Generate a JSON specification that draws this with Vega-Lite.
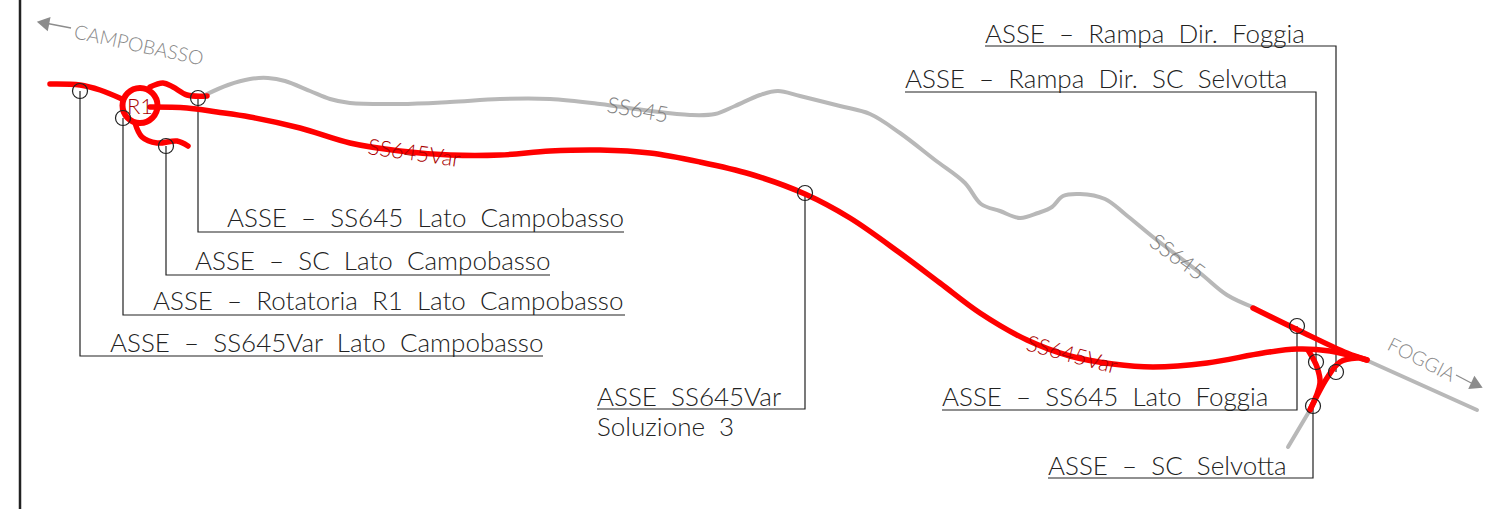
{"$schema":"https://vega.github.io/schema/vega-lite/v6.json","width":1485,"height":509,"padding":0,"autosize":"none","background":"white","view":{"stroke":null},
"encoding":{"x":{"field":"x","type":"quantitative","scale":{"domain":[0,1485],"nice":false,"zero":false},"axis":null},"y":{"field":"y","type":"quantitative","scale":{"domain":[509,0],"nice":false,"zero":false},"axis":null}},
"datasets":{"paths":[
{"p":"frame","k":"frame","s":0,"x":20,"y":0},{"p":"frame","k":"frame","s":1,"x":20,"y":509},
{"p":"g1","k":"grey","s":0,"x":205,"y":95},{"p":"g1","k":"grey","s":1,"x":228,"y":85},{"p":"g1","k":"grey","s":2,"x":250,"y":79},{"p":"g1","k":"grey","s":3,"x":268,"y":78},{"p":"g1","k":"grey","s":4,"x":285,"y":81},{"p":"g1","k":"grey","s":5,"x":310,"y":91},{"p":"g1","k":"grey","s":6,"x":330,"y":99},{"p":"g1","k":"grey","s":7,"x":350,"y":103},{"p":"g1","k":"grey","s":8,"x":400,"y":104},{"p":"g1","k":"grey","s":9,"x":450,"y":102},{"p":"g1","k":"grey","s":10,"x":500,"y":99},{"p":"g1","k":"grey","s":11,"x":550,"y":99},{"p":"g1","k":"grey","s":12,"x":600,"y":104},{"p":"g1","k":"grey","s":13,"x":650,"y":111},{"p":"g1","k":"grey","s":14,"x":690,"y":115},{"p":"g1","k":"grey","s":15,"x":715,"y":114},{"p":"g1","k":"grey","s":16,"x":735,"y":106},{"p":"g1","k":"grey","s":17,"x":760,"y":95},{"p":"g1","k":"grey","s":18,"x":778,"y":91},{"p":"g1","k":"grey","s":19,"x":800,"y":96},{"p":"g1","k":"grey","s":20,"x":840,"y":106},{"p":"g1","k":"grey","s":21,"x":870,"y":114},{"p":"g1","k":"grey","s":22,"x":900,"y":133},{"p":"g1","k":"grey","s":23,"x":935,"y":160},{"p":"g1","k":"grey","s":24,"x":965,"y":183},{"p":"g1","k":"grey","s":25,"x":981,"y":204},{"p":"g1","k":"grey","s":26,"x":1000,"y":211},{"p":"g1","k":"grey","s":27,"x":1020,"y":218},{"p":"g1","k":"grey","s":28,"x":1038,"y":213},{"p":"g1","k":"grey","s":29,"x":1052,"y":207},{"p":"g1","k":"grey","s":30,"x":1063,"y":196},{"p":"g1","k":"grey","s":31,"x":1080,"y":194},{"p":"g1","k":"grey","s":32,"x":1105,"y":199},{"p":"g1","k":"grey","s":33,"x":1125,"y":214},{"p":"g1","k":"grey","s":34,"x":1153,"y":237},{"p":"g1","k":"grey","s":35,"x":1200,"y":273},{"p":"g1","k":"grey","s":36,"x":1227,"y":295},{"p":"g1","k":"grey","s":37,"x":1255,"y":308},
{"p":"g2","k":"grey","s":0,"x":1366,"y":360},{"p":"g2","k":"grey","s":1,"x":1477,"y":410},
{"p":"g3","k":"grey","s":0,"x":1310,"y":410},{"p":"g3","k":"grey","s":1,"x":1288,"y":447},
{"p":"r1","k":"red","s":0,"x":50,"y":84},{"p":"r1","k":"red","s":1,"x":80,"y":85},{"p":"r1","k":"red","s":2,"x":100,"y":90},{"p":"r1","k":"red","s":3,"x":122,"y":99},
{"p":"r2","k":"red","s":0,"x":150,"y":107},{"p":"r2","k":"red","s":1,"x":187,"y":108},{"p":"r2","k":"red","s":2,"x":217,"y":112},{"p":"r2","k":"red","s":3,"x":250,"y":117},{"p":"r2","k":"red","s":4,"x":300,"y":128},{"p":"r2","k":"red","s":5,"x":350,"y":143},{"p":"r2","k":"red","s":6,"x":400,"y":151},{"p":"r2","k":"red","s":7,"x":450,"y":155},{"p":"r2","k":"red","s":8,"x":500,"y":155},{"p":"r2","k":"red","s":9,"x":550,"y":151},{"p":"r2","k":"red","s":10,"x":600,"y":150},{"p":"r2","k":"red","s":11,"x":650,"y":153},{"p":"r2","k":"red","s":12,"x":700,"y":162},{"p":"r2","k":"red","s":13,"x":750,"y":174},{"p":"r2","k":"red","s":14,"x":805,"y":194},{"p":"r2","k":"red","s":15,"x":850,"y":218},{"p":"r2","k":"red","s":16,"x":900,"y":253},{"p":"r2","k":"red","s":17,"x":940,"y":283},{"p":"r2","k":"red","s":18,"x":980,"y":313},{"p":"r2","k":"red","s":19,"x":1027,"y":340},{"p":"r2","k":"red","s":20,"x":1070,"y":356},{"p":"r2","k":"red","s":21,"x":1113,"y":364},{"p":"r2","k":"red","s":22,"x":1153,"y":367},{"p":"r2","k":"red","s":23,"x":1207,"y":363},{"p":"r2","k":"red","s":24,"x":1263,"y":353},{"p":"r2","k":"red","s":25,"x":1297,"y":349},{"p":"r2","k":"red","s":26,"x":1330,"y":351},{"p":"r2","k":"red","s":27,"x":1367,"y":360},
{"p":"r3","k":"red","s":0,"x":1253,"y":308},{"p":"r3","k":"red","s":1,"x":1300,"y":331},{"p":"r3","k":"red","s":2,"x":1347,"y":353},{"p":"r3","k":"red","s":3,"x":1367,"y":360},
{"p":"r4","k":"red","s":0,"x":1308,"y":350},{"p":"r4","k":"red","s":1,"x":1317,"y":367},{"p":"r4","k":"red","s":2,"x":1320,"y":383},{"p":"r4","k":"red","s":3,"x":1310,"y":410},
{"p":"r5","k":"red","s":0,"x":1310,"y":410},{"p":"r5","k":"red","s":1,"x":1327,"y":378},{"p":"r5","k":"red","s":2,"x":1340,"y":362},{"p":"r5","k":"red","s":3,"x":1357,"y":358},
{"p":"r6","k":"red","s":0,"x":150,"y":87},{"p":"r6","k":"red","s":1,"x":163,"y":83},{"p":"r6","k":"red","s":2,"x":173,"y":87},{"p":"r6","k":"red","s":3,"x":187,"y":95},{"p":"r6","k":"red","s":4,"x":207,"y":96},
{"p":"r7","k":"red","s":0,"x":135,"y":123},{"p":"r7","k":"red","s":1,"x":142,"y":137},{"p":"r7","k":"red","s":2,"x":157,"y":143},{"p":"r7","k":"red","s":3,"x":177,"y":141},{"p":"r7","k":"red","s":4,"x":188,"y":146},
{"p":"l1","k":"leader","s":0,"x":80,"y":91},{"p":"l1","k":"leader","s":1,"x":80,"y":356},{"p":"l1","k":"leader","s":2,"x":543,"y":356},
{"p":"l2","k":"leader","s":0,"x":123,"y":118},{"p":"l2","k":"leader","s":1,"x":123,"y":315},{"p":"l2","k":"leader","s":2,"x":625,"y":315},
{"p":"l3","k":"leader","s":0,"x":166,"y":146},{"p":"l3","k":"leader","s":1,"x":166,"y":275},{"p":"l3","k":"leader","s":2,"x":550,"y":275},
{"p":"l4","k":"leader","s":0,"x":198,"y":98},{"p":"l4","k":"leader","s":1,"x":198,"y":232},{"p":"l4","k":"leader","s":2,"x":624,"y":232},
{"p":"l5","k":"leader","s":0,"x":805,"y":193},{"p":"l5","k":"leader","s":1,"x":805,"y":409},{"p":"l5","k":"leader","s":2,"x":597,"y":409},
{"p":"l6","k":"leader","s":0,"x":1336,"y":372},{"p":"l6","k":"leader","s":1,"x":1336,"y":46},{"p":"l6","k":"leader","s":2,"x":985,"y":46},
{"p":"l7","k":"leader","s":0,"x":1316,"y":362},{"p":"l7","k":"leader","s":1,"x":1316,"y":92},{"p":"l7","k":"leader","s":2,"x":905,"y":92},
{"p":"l8","k":"leader","s":0,"x":1297,"y":326},{"p":"l8","k":"leader","s":1,"x":1297,"y":410},{"p":"l8","k":"leader","s":2,"x":942,"y":410},
{"p":"l9","k":"leader","s":0,"x":1313,"y":406},{"p":"l9","k":"leader","s":1,"x":1313,"y":478},{"p":"l9","k":"leader","s":2,"x":1048,"y":478},
{"p":"a1","k":"arrow","s":0,"x":71,"y":28},{"p":"a1","k":"arrow","s":1,"x":45,"y":23},
{"p":"a2","k":"arrow","s":0,"x":1456,"y":375},{"p":"a2","k":"arrow","s":1,"x":1475,"y":385}
],
"nodes":[{"x":80,"y":91},{"x":123,"y":118},{"x":166,"y":146},{"x":198,"y":98},{"x":805,"y":193},{"x":1336,"y":372},{"x":1316,"y":362},{"x":1297,"y":326},{"x":1313,"y":406}],
"heads":[{"x":43,"y":23,"bearing":281},{"x":1477,"y":385,"bearing":115}],
"rings":[{"x":140,"y":105.5}],
"notes":[
{"t":"ASSE \u00a0–\u00a0 SS645 \u00a0Lato \u00a0Campobasso","x":227,"y":227},
{"t":"ASSE \u00a0–\u00a0 SC \u00a0Lato \u00a0Campobasso","x":195,"y":270},
{"t":"ASSE \u00a0–\u00a0 Rotatoria \u00a0R1 \u00a0Lato \u00a0Campobasso","x":153,"y":310},
{"t":"ASSE \u00a0–\u00a0 SS645Var \u00a0Lato \u00a0Campobasso","x":110,"y":352},
{"t":"ASSE \u00a0SS645Var","x":597,"y":406},
{"t":"Soluzione \u00a03","x":597,"y":436},
{"t":"ASSE \u00a0–\u00a0 Rampa \u00a0Dir. \u00a0Foggia","x":985,"y":43},
{"t":"ASSE \u00a0–\u00a0 Rampa \u00a0Dir. \u00a0SC \u00a0Selvotta","x":905,"y":88},
{"t":"ASSE \u00a0–\u00a0 SS645 \u00a0Lato \u00a0Foggia","x":942,"y":406},
{"t":"ASSE \u00a0–\u00a0 SC \u00a0Selvotta","x":1048,"y":475}],
"placeLabels":[
{"t":"CAMPOBASSO","x":73,"y":38,"bearing":12},
{"t":"FOGGIA","x":1386,"y":349,"bearing":27}],
"greyLabels":[
{"t":"SS645","x":606,"y":112,"bearing":10},
{"t":"SS645","x":1148,"y":245,"bearing":36}],
"redLabels":[
{"t":"SS645Var","x":367,"y":154,"bearing":8},
{"t":"SS645Var","x":1025,"y":350,"bearing":15},
{"t":"R1","x":127,"y":114,"bearing":0}]},
"layer":[
{"data":{"name":"paths"},"transform":[{"filter":"datum.k==='frame'"}],"mark":{"type":"line","stroke":"#222222","strokeWidth":2.5},"encoding":{"detail":{"field":"p"},"order":{"field":"s"}}},
{"data":{"name":"paths"},"transform":[{"filter":"datum.k==='grey'"}],"mark":{"type":"line","stroke":"#b8b8b8","strokeWidth":4,"strokeCap":"round","interpolate":"catmull-rom"},"encoding":{"detail":{"field":"p"},"order":{"field":"s"}}},
{"data":{"name":"paths"},"transform":[{"filter":"datum.k==='arrow'"}],"mark":{"type":"line","stroke":"#8c8c8c","strokeWidth":1.3},"encoding":{"detail":{"field":"p"},"order":{"field":"s"}}},
{"data":{"name":"heads"},"mark":{"type":"point","shape":"triangle-up","filled":true,"fill":"#8c8c8c","stroke":null,"opacity":1,"size":210},"encoding":{"angle":{"field":"bearing","type":"quantitative","scale":null}}},
{"data":{"name":"paths"},"transform":[{"filter":"datum.k==='leader'"}],"mark":{"type":"line","stroke":"#222222","strokeWidth":1.2},"encoding":{"detail":{"field":"p"},"order":{"field":"s"}}},
{"data":{"name":"paths"},"transform":[{"filter":"datum.k==='red'"}],"mark":{"type":"line","stroke":"#ff0000","strokeWidth":5.5,"strokeCap":"round","interpolate":"catmull-rom"},"encoding":{"detail":{"field":"p"},"order":{"field":"s"}}},
{"data":{"name":"rings"},"mark":{"type":"point","shape":"circle","filled":false,"stroke":"#ff0000","strokeWidth":6,"opacity":1,"size":1225}},
{"data":{"name":"nodes"},"mark":{"type":"point","shape":"circle","filled":false,"stroke":"#222222","strokeWidth":1.2,"opacity":1,"size":225}},
{"data":{"name":"notes"},"mark":{"type":"text","align":"left","baseline":"alphabetic","font":"Lato","fontWeight":300,"fontSize":26,"fill":"#222222"},"encoding":{"text":{"field":"t"}}},
{"data":{"name":"placeLabels"},"mark":{"type":"text","align":"left","baseline":"alphabetic","font":"Lato","fontWeight":300,"fontSize":19.5,"fill":"#888888"},"encoding":{"text":{"field":"t"},"angle":{"field":"bearing","type":"quantitative","scale":null}}},
{"data":{"name":"greyLabels"},"mark":{"type":"text","align":"left","baseline":"alphabetic","font":"Lato","fontWeight":300,"fontSize":22,"fill":"#808080"},"encoding":{"text":{"field":"t"},"angle":{"field":"bearing","type":"quantitative","scale":null}}},
{"data":{"name":"redLabels"},"mark":{"type":"text","align":"left","baseline":"alphabetic","font":"Lato","fontWeight":300,"fontSize":22,"fill":"#a80000"},"encoding":{"text":{"field":"t"},"angle":{"field":"bearing","type":"quantitative","scale":null}}}
]}
